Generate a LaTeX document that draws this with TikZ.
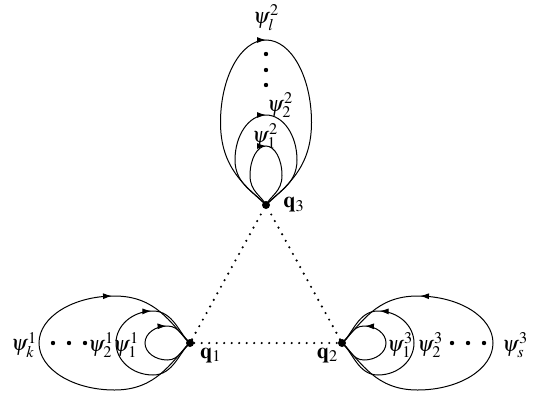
\documentclass[tikz,border=0pt]{standalone}
\usepackage{mathptmx}
\usetikzlibrary{arrows.meta,positioning,decorations.markings}

\begin{document}
\begin{tikzpicture}[x=1pt,y=1pt,>=Latex,
  qpt/.style={circle,fill=black,inner sep=0pt,minimum size=8pt},
  orbit/.style={line width=1pt,postaction={decorate},
    decoration={markings,mark=at position #1 with {\arrow{Latex[length=9pt,width=6pt]}}}},
  orbit/.default=0.75,
  bend/.style 2 args={out distance=#1,in distance=#2},
  link/.style={line width=2.4pt,line cap=round,dash pattern=on 0pt off 7.5pt},
  lbl/.style={inner sep=0pt,font=\fontsize{22}{26}\selectfont}]
  \useasboundingbox (0,0) rectangle (534,392);
  \node[qpt] (q1) at (190,49) {};
  \node[qpt] (q2) at (342,49) {};
  \node[qpt] (q3) at (266,187) {};
  \node[lbl,below right=2pt and 7pt of q1] (q1l) {$\mathbf{q}_1$};
  \node[lbl,below left=2pt and 1pt of q2] (q2l) {$\mathbf{q}_2$};
  \node[lbl,right=13pt of q3] (q3l) {$\mathbf{q}_3$};
  % dotted triangle
  \draw[link] (q1) -- (q2);
  \draw[link] (q1) -- (q3);
  \draw[link] (q2) -- (q3);
  % loops at q1
  \draw[orbit] (q1.center) to[out=210,in=0,bend={8}{12.4}] ++(-22.5,-17)
    to[out=180,in=270,bend={12.4}{9.4}] ++(-22.5,17)
    to[out=90,in=180,bend={9.4}{12.4}] ++(22.5,17)
    to[out=0,in=150,bend={12.4}{8}] (q1.center);
  \draw[orbit] (q1.center) to[out=220,in=0,bend={14}{20.4}] ++(-37,-32)
    to[out=180,in=270,bend={20.4}{17.7}] ++(-37,32)
    to[out=90,in=180,bend={17.7}{20.4}] ++(37,32)
    to[out=0,in=140,bend={20.4}{14}] (q1.center);
  \draw[orbit] (q1.center) to[out=225,in=0,bend={28}{41.7}] ++(-75.5,-47)
    to[out=180,in=270,bend={41.7}{26}] ++(-75.5,47)
    to[out=90,in=180,bend={26}{41.7}] ++(75.5,47)
    to[out=0,in=135,bend={41.7}{28}] (q1.center);
  % loops at q2
  \draw[orbit] (q2.center) to[out=-30,in=180,bend={8}{12.2}] ++(22,-17)
    to[out=0,in=270,bend={12.2}{9.4}] ++(22,17)
    to[out=90,in=0,bend={9.4}{12.2}] ++(-22,17)
    to[out=180,in=30,bend={12.2}{8}] (q2.center);
  \draw[orbit] (q2.center) to[out=-40,in=180,bend={14}{19.9}] ++(36,-32)
    to[out=0,in=270,bend={19.9}{17.7}] ++(36,32)
    to[out=90,in=0,bend={17.7}{19.9}] ++(-36,32)
    to[out=180,in=40,bend={19.9}{14}] (q2.center);
  \draw[orbit] (q2.center) to[out=-45,in=180,bend={28}{41.7}] ++(75.5,-47)
    to[out=0,in=270,bend={41.7}{26}] ++(75.5,47)
    to[out=90,in=0,bend={26}{41.7}] ++(-75.5,47)
    to[out=180,in=45,bend={41.7}{28}] (q2.center);
  % loops at q3
  \draw[orbit=0.5] (q3.center) to[out=115,in=270,bend={10}{16.3}] ++(-16,29.5)
    to[out=90,in=180,bend={16.3}{8.8}] ++(16,29.5)
    to[out=0,in=90,bend={8.8}{16.3}] ++(16,-29.5)
    to[out=270,in=65,bend={16.3}{10}] (q3.center);
  \draw[orbit=0.5] (q3.center) to[out=130,in=270,bend={16}{24.9}] ++(-31,45)
    to[out=90,in=180,bend={24.9}{17.1}] ++(31,45)
    to[out=0,in=90,bend={17.1}{24.9}] ++(31,-45)
    to[out=270,in=50,bend={24.9}{16}] (q3.center);
  \draw[orbit=0.5] (q3.center) to[out=137,in=270,bend={28}{45.6}] ++(-45.5,82.5)
    to[out=90,in=180,bend={45.6}{25.1}] ++(45.5,82.5)
    to[out=0,in=90,bend={25.1}{45.6}] ++(45.5,-82.5)
    to[out=270,in=43,bend={45.6}{28}] (q3.center);
  % loop labels
  \node[lbl] (p1k) at (24,47) {$\psi^1_k$};
  \node[lbl] (p12) at (101,47) {$\psi^1_2$};
  \node[lbl] (p11) at (126,47) {$\psi^1_1$};
  \node[lbl] (p31) at (400,47) {$\psi^3_1$};
  \node[lbl] (p32) at (430,47) {$\psi^3_2$};
  \node[lbl] (p3s) at (515,47) {$\psi^3_s$};
  \node[lbl] (p21) at (265,256) {$\psi^2_1$};
  \node[lbl] (p22) at (280,287) {$\psi^2_2$};
  \node[lbl] (p2l) at (266,374) {$\psi^2_l$};
  % dots
  \foreach \x in {53,69,85} \fill (\x,49) circle (2.2pt);
  \foreach \x in {452,468,484} \fill (\x,49) circle (2.2pt);
  \foreach \y in {307,322,338} \fill (266,\y) circle (2.2pt);
\end{tikzpicture}
\end{document}
